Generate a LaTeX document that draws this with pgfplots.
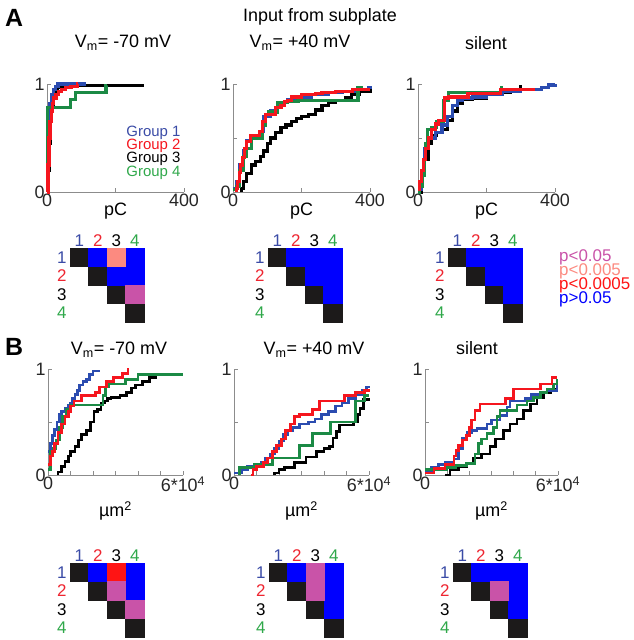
\documentclass[border=0pt]{standalone}
\usepackage{fontspec}
\setmainfont{Liberation Sans}
\usepackage{xcolor}
\usepackage{pgfplots}
\pgfplotsset{compat=1.18}

\definecolor{lnBlue}{HTML}{2B4CB0}
\definecolor{lnRed}{HTML}{F5161E}
\definecolor{lnGreen}{HTML}{1B8A45}
\definecolor{txBlue}{HTML}{3A4BA6}
\definecolor{txRed}{HTML}{EE2530}
\definecolor{txGreen}{HTML}{2FA84A}
\definecolor{cellK}{HTML}{1C1A1A}
\definecolor{cellB}{HTML}{0000FF}
\definecolor{cellS}{HTML}{FC8A80}
\definecolor{cellM}{HTML}{C953A8}
\definecolor{cellR}{HTML}{FF1414}
\definecolor{axGray}{HTML}{8C8C8C}

\newcommand{\fs}[1]{\fontsize{#1}{#1}\selectfont}

\pgfplotsset{
  cdf/.style={
    width=137bp, height=108bp, scale only axis,
    axis x line*=bottom, axis y line*=left,
    axis line style={axGray, line width=0.9pt, -},
    tick align=inside, major tick length=4bp,
    tick style={axGray, line width=0.8pt},
    ymin=0, ymax=1, ytick={0,0.5,1}, yticklabels={0,,1},
    enlargelimits=false, clip=false,
    tick label style={font=\fs{18}, text=black!85},
    yticklabel style={xshift=1bp},
    xticklabel style={yshift=2bp},
    xlabel style={font=\fs{18}, at={(axis description cs:0.5,0)}, anchor=center},
  },
  cdfA/.style={cdf, xmin=0, xmax=400, xtick={0,200,400},
    xticklabels={0,,400}, xlabel={pC}, xlabel style={yshift=-19bp}},
  cdfB/.style={cdf, height=106bp, width=135bp, xmin=0, xmax=60000,
    xtick={0,10000,20000,30000,40000,50000,60000}, scaled x ticks=false,
    xticklabels={0,,,,,,6*10\textsuperscript{4}},
    xlabel={µm\textsuperscript{2}}, xlabel style={yshift=-36bp}},
  g1/.style={const plot, color=lnBlue, line width=#1},
  g2/.style={const plot, color=lnRed, line width=#1},
  g3/.style={const plot, color=black, line width=#1},
  g4/.style={const plot, color=lnGreen, line width=#1},
  mat/.style={
    width=74bp, height=74bp, scale only axis,
    xmin=0.5, xmax=4.5, ymin=0.5, ymax=4.5, y dir=reverse,
    axis line style={draw=none}, major tick length=0pt,
    xtick={1,2,3,4}, ytick={1,2,3,4}, xticklabel pos=upper,
    xticklabels={\textcolor{txBlue}{1},\textcolor{txRed}{2},\textcolor{black}{3},\textcolor{txGreen}{4}},
    yticklabels={\textcolor{txBlue}{1},\textcolor{txRed}{2},\textcolor{black}{3},\textcolor{txGreen}{4}},
    tick label style={font=\fs{17}},
    xticklabel style={yshift=-2bp},
    clip=false,
  },
  cell/.style={only marks, mark=square*, mark size=9.25bp,
    mark options={draw=#1, fill=#1, line width=0.2pt}},
}

\begin{document}
\begin{tikzpicture}
\useasboundingbox (0bp,0bp) rectangle (634bp,-640bp);

% ---------- titles ----------
\node[font=\fs{25}\bfseries] at (14bp,-18bp) {A};
\node[font=\fs{25}\bfseries] at (14bp,-347bp) {B};
\node[font=\fs{18}] at (320bp,-17bp) {Input from subplate};
\node[font=\fs{18}] at (123bp,-43bp) {V\textsubscript{m}= -70 mV};
\node[font=\fs{18}] at (300bp,-43bp) {V\textsubscript{m}= +40 mV};
\node[font=\fs{18}] at (486bp,-43bp) {silent};
\node[font=\fs{18}] at (119bp,-350bp) {V\textsubscript{m}= -70 mV};
\node[font=\fs{18}] at (314bp,-350bp) {V\textsubscript{m}= +40 mV};
\node[font=\fs{18}] at (477bp,-348bp) {silent};

% ---------- A1 ----------
\begin{axis}[cdfA, at={(47bp,-192bp)}, anchor=south west]
\addplot[g3=3.2pt] coordinates {(0,0)(4,0.2)(7,0.45)(10,0.65)(14,0.8)(18,0.88)(24,0.93)(30,0.97)(44,0.985)(284,0.985)};
\addplot[g1=3.2pt] coordinates {(0,0)(2,0.3)(4,0.55)(6,0.72)(9,0.82)(13,0.9)(18,0.95)(24,0.98)(32,1)(113,1)};
\addplot[g4=3.2pt] coordinates {(0,0)(1,0.4)(2,0.78)(69,0.86)(83,0.92)(172,0.985)(173,0.985)};
\addplot[g2=3.2pt] coordinates {(0,0)(3,0.25)(6,0.5)(9,0.65)(12,0.75)(16,0.82)(20,0.87)(26,0.9)(33,0.93)(42,0.95)(55,0.97)(70,0.98)(88,1)(90,1)};
\end{axis}
\node[font=\fs{15}, text=txBlue, anchor=east] at (184bp,-133bp) {Group 1};
\node[font=\fs{15}, text=lnRed, anchor=east] at (184bp,-146bp) {Group 2};
\node[font=\fs{15}, text=black, anchor=east] at (184bp,-159bp) {Group 3};
\node[font=\fs{15}, text=txGreen, anchor=east] at (184bp,-173bp) {Group 4};

% ---------- A2 ----------
\begin{axis}[cdfA, at={(233bp,-192bp)}, anchor=south west]
\addplot[g3=3.2pt] coordinates {(24,0)(24,0.03)(30,0.1)(40,0.17)(55,0.25)(65,0.28)(80,0.33)(90,0.38)(100,0.45)(110,0.5)(125,0.55)(140,0.6)(155,0.62)(170,0.65)(185,0.68)(200,0.7)(220,0.72)(240,0.76)(260,0.8)(280,0.83)(300,0.85)(330,0.87)(345,0.9)(370,0.93)(400,0.95)};
\addplot[g1=3.2pt] coordinates {(0,0.03)(10,0.1)(20,0.25)(30,0.38)(40,0.48)(55,0.52)(80,0.56)(90,0.7)(110,0.75)(130,0.83)(160,0.86)(190,0.88)(230,0.9)(280,0.92)(320,0.93)(360,0.95)(395,0.97)(400,0.98)};
\addplot[g4=3.2pt] coordinates {(0,0.02)(10,0.05)(20,0.2)(30,0.33)(40,0.4)(55,0.5)(75,0.5)(85,0.62)(95,0.72)(105,0.74)(130,0.83)(160,0.84)(190,0.85)(355,0.85)(365,0.97)(380,0.97)};
\addplot[g2=3.2pt] coordinates {(10,0)(10,0.03)(14,0.1)(18,0.18)(22,0.25)(27,0.32)(33,0.4)(39,0.47)(52,0.52)(78,0.56)(85,0.65)(95,0.72)(110,0.72)(125,0.78)(140,0.8)(150,0.84)(160,0.85)(170,0.88)(200,0.9)(240,0.91)(260,0.92)(300,0.93)(350,0.95)(400,0.95)};
\end{axis}

% ---------- A3 ----------
\begin{axis}[cdfA, at={(418bp,-192bp)}, anchor=south west]
\addplot[g3=3.2pt] coordinates {(0,0)(10,0.15)(20,0.3)(30,0.45)(40,0.52)(55,0.55)(70,0.58)(85,0.66)(100,0.75)(115,0.82)(130,0.86)(160,0.87)(200,0.9)(240,0.92)(270,0.95)(300,0.98)(305,0.98)};
\addplot[g1=3.2pt] coordinates {(0,0.02)(10,0.2)(20,0.4)(30,0.5)(50,0.55)(70,0.62)(85,0.7)(100,0.8)(115,0.85)(130,0.87)(160,0.88)(200,0.9)(245,0.93)(300,0.95)(360,0.97)(380,0.99)(400,1)};
\addplot[g4=3.2pt] coordinates {(0,0)(5,0.05)(12,0.15)(18,0.3)(22,0.45)(28,0.58)(40,0.6)(55,0.65)(75,0.85)(90,0.92)(130,0.92)(240,0.95)(244,0.98)};
\addplot[g2=3.2pt] coordinates {(0,0.02)(5,0.1)(10,0.2)(15,0.3)(22,0.4)(30,0.5)(40,0.58)(50,0.63)(60,0.66)(78,0.87)(90,0.88)(146,0.91)(240,0.95)(342,0.95)};
\end{axis}

% ---------- B1 ----------
\begin{axis}[cdfB, at={(48bp,-475bp)}, anchor=south west]
\addplot[g3=2.6pt] coordinates {(4400,0)(4400,0.03)(6000,0.08)(7500,0.13)(9000,0.18)(10000,0.22)(12000,0.27)(13500,0.33)(15000,0.38)(17000,0.42)(19000,0.5)(20500,0.6)(22000,0.62)(23500,0.68)(25000,0.7)(26500,0.72)(28000,0.73)(32000,0.75)(35000,0.78)(37000,0.82)(39000,0.85)(42000,0.88)(45000,0.92)(48000,0.95)(60000,0.95)};
\addplot[g1=2.6pt] coordinates {(0,0.22)(1000,0.3)(2000,0.37)(3000,0.43)(4000,0.5)(5000,0.57)(6000,0.6)(7500,0.63)(9000,0.66)(10000,0.68)(11000,0.72)(12000,0.76)(13000,0.8)(14000,0.85)(15500,0.88)(17000,0.9)(18500,0.95)(20000,0.98)(23000,0.98)};
\addplot[g4=2.6pt] coordinates {(0,0.05)(1000,0.22)(2500,0.25)(3500,0.33)(5000,0.45)(6500,0.55)(8000,0.62)(10000,0.66)(24500,0.75)(25500,0.83)(27000,0.86)(34500,0.9)(40000,0.95)(60000,0.95)};
\addplot[g2=2.6pt] coordinates {(0,0.1)(1000,0.18)(2000,0.22)(3000,0.3)(4500,0.4)(6000,0.48)(7500,0.55)(9000,0.6)(10000,0.65)(11500,0.7)(15000,0.75)(21000,0.78)(23000,0.83)(26000,0.88)(29000,0.92)(33000,0.96)(35500,1)(35600,1)};
\end{axis}

% ---------- B2 ----------
\begin{axis}[cdfB, at={(234bp,-475bp)}, anchor=south west]
\addplot[g3=2.6pt] coordinates {(18000,0)(18000,0.02)(20000,0.05)(22500,0.07)(27000,0.12)(32000,0.17)(36600,0.22)(40000,0.25)(42500,0.27)(44000,0.35)(45500,0.41)(47000,0.47)(53000,0.5)(55000,0.57)(56000,0.63)(57500,0.71)(60000,0.73)};
\addplot[g1=2.6pt] coordinates {(0,0.02)(3500,0.05)(6000,0.08)(9000,0.1)(12000,0.12)(14000,0.16)(16000,0.2)(18000,0.25)(20000,0.32)(22000,0.38)(24000,0.42)(26000,0.45)(29000,0.48)(33000,0.5)(36000,0.53)(39000,0.57)(42000,0.6)(45000,0.65)(48000,0.68)(51000,0.72)(54000,0.76)(57000,0.8)(59000,0.83)(60000,0.84)};
\addplot[g4=2.6pt] coordinates {(2500,0)(2500,0.07)(7000,0.07)(9000,0.1)(17000,0.16)(29000,0.28)(35000,0.39)(43000,0.5)(54000,0.7)(58000,0.75)(60000,0.75)};
\addplot[g2=2.6pt] coordinates {(7700,0)(8500,0.05)(10000,0.08)(13000,0.12)(15000,0.16)(17000,0.22)(19000,0.28)(21000,0.34)(23000,0.42)(25000,0.48)(27000,0.55)(29000,0.57)(35000,0.62)(38000,0.7)(48000,0.7)(49000,0.75)(54000,0.78)(58000,0.8)(60000,0.81)};
\end{axis}

% ---------- B3 ----------
\begin{axis}[cdfB, width=133bp, at={(425bp,-475bp)}, anchor=south west]
\addplot[g3=2.6pt] coordinates {(9000,0)(11300,0.05)(15100,0.08)(18800,0.11)(21900,0.16)(25600,0.2)(29400,0.27)(31700,0.34)(35400,0.42)(38400,0.48)(41500,0.53)(44500,0.61)(47500,0.67)(50500,0.73)(53500,0.78)(56500,0.81)(59600,0.875)(60000,0.875)};
\addplot[g1=2.6pt] coordinates {(0,0.03)(3000,0.07)(6000,0.1)(9000,0.12)(13000,0.15)(15000,0.25)(17000,0.35)(19000,0.4)(21000,0.42)(23400,0.44)(27900,0.48)(30000,0.52)(33900,0.56)(36900,0.64)(38400,0.7)(45200,0.72)(48000,0.76)(52000,0.78)(55000,0.8)(59600,0.84)(60000,0.84)};
\addplot[g4=2.6pt] coordinates {(0,0.05)(9800,0.07)(14000,0.09)(18800,0.11)(22600,0.2)(24100,0.3)(25600,0.34)(27900,0.39)(30900,0.45)(32400,0.55)(33900,0.61)(41500,0.66)(46000,0.7)(49000,0.73)(52000,0.78)(55000,0.81)(58000,0.86)(59600,0.89)(60000,0.89)};
\addplot[g2=2.6pt] coordinates {(0,0.02)(4000,0.06)(9000,0.1)(13000,0.18)(14000,0.23)(15100,0.28)(17000,0.33)(18800,0.375)(20000,0.45)(21100,0.52)(22600,0.61)(24900,0.67)(36200,0.72)(40000,0.81)(52000,0.86)(57300,0.92)(59500,0.92)};
\end{axis}

% ---------- significance matrices (x = column, y = row) ----------
\begin{axis}[mat, at={(70bp,-248bp)}, anchor=north west]
\addplot[cell=cellK] coordinates {(1,1)(2,2)(3,3)(4,4)};
\addplot[cell=cellB] coordinates {(2,1)(4,1)(3,2)(4,2)};
\addplot[cell=cellS] coordinates {(3,1)};
\addplot[cell=cellM] coordinates {(4,3)};
\end{axis}
\begin{axis}[mat, at={(268bp,-248bp)}, anchor=north west]
\addplot[cell=cellK] coordinates {(1,1)(2,2)(3,3)(4,4)};
\addplot[cell=cellB] coordinates {(2,1)(3,1)(4,1)(3,2)(4,2)(4,3)};
\end{axis}
\begin{axis}[mat, at={(448bp,-248bp)}, anchor=north west]
\addplot[cell=cellK] coordinates {(1,1)(2,2)(3,3)(4,4)};
\addplot[cell=cellB] coordinates {(2,1)(3,1)(4,1)(3,2)(4,2)(4,3)};
\end{axis}
\begin{axis}[mat, at={(70bp,-563bp)}, anchor=north west]
\addplot[cell=cellK] coordinates {(1,1)(2,2)(3,3)(4,4)};
\addplot[cell=cellB] coordinates {(2,1)(4,1)(4,2)};
\addplot[cell=cellR] coordinates {(3,1)};
\addplot[cell=cellM] coordinates {(3,2)(4,3)};
\end{axis}
\begin{axis}[mat, at={(269bp,-563bp)}, anchor=north west]
\addplot[cell=cellK] coordinates {(1,1)(2,2)(3,3)(4,4)};
\addplot[cell=cellB] coordinates {(2,1)(4,1)(4,2)(4,3)};
\addplot[cell=cellM] coordinates {(3,1)(3,2)};
\end{axis}
\begin{axis}[mat, at={(453bp,-563bp)}, anchor=north west]
\addplot[cell=cellK] coordinates {(1,1)(2,2)(3,3)(4,4)};
\addplot[cell=cellB] coordinates {(2,1)(3,1)(4,1)(4,2)(4,3)};
\addplot[cell=cellM] coordinates {(3,2)};
\end{axis}

% p-value key
\node[font=\fs{17}, inner sep=0pt, text=cellM, anchor=west] at (559bp,-257bp) {p<0.05};
\node[font=\fs{17}, inner sep=0pt, text=cellS, anchor=west] at (559bp,-271bp) {p<0.005};
\node[font=\fs{17}, inner sep=0pt, text=cellR, anchor=west] at (559bp,-285bp) {p<0.0005};
\node[font=\fs{17}, inner sep=0pt, text=cellB, anchor=west] at (559bp,-299bp) {p>0.05};
\end{tikzpicture}
\end{document}
